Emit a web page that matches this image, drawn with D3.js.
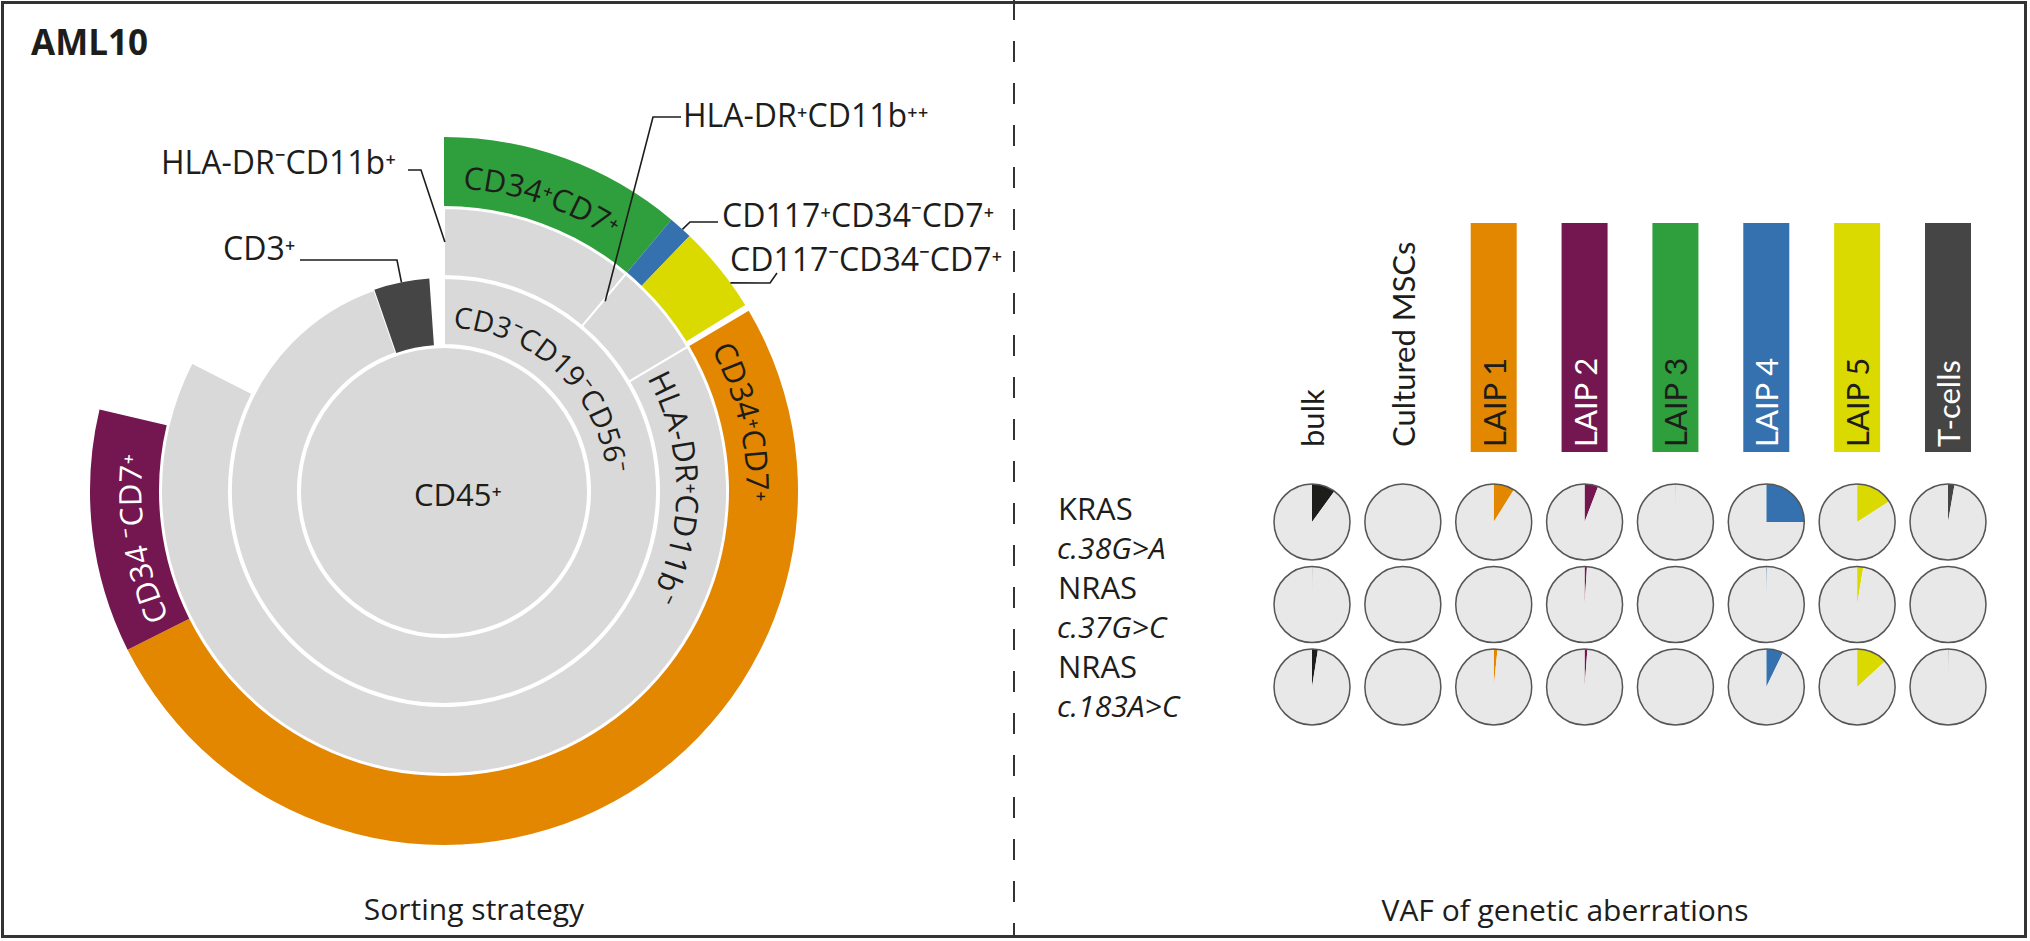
<!DOCTYPE html>
<html>
<head>
<meta charset="utf-8">
<script src="https://cdn.jsdelivr.net/npm/d3@7"></script>
<style>
  html, body { margin: 0; padding: 0; background: #fff; }
  svg { display: block; }
  text { font-family: "Open Sans", "Noto Sans", "DejaVu Sans", sans-serif; fill: #1d1d1b; }
</style>
</head>
<body>
<svg id="chart" width="2030" height="941"></svg>
<script>
// ---- sorting tree (share of CD45+ events, %, leaves only) ----
const popIds = ['CD45', 'CD3neg', 'CD3pos', 'rest1',
  'DRnegCD11bpos', 'DRposCD11bhi', 'DRposCD11bneg', 'rest2',
  'LAIP3', 'LAIP4', 'LAIP5', 'rest3a', 'LAIP1', 'LAIP2', 'rest3b']
const popParents = [null, 'CD45', 'CD45', 'CD45',
  'CD3neg', 'CD3neg', 'CD3neg', 'CD3neg',
  'DRnegCD11bpos', 'DRposCD11bhi', 'DRposCD11bhi', 'DRposCD11bhi',
  'DRposCD11bneg', 'DRposCD11bneg', 'DRposCD11bneg']
const popShares = [0, 0, 4.2, 1.1, 0, 0, 0, 12.2, 11.1, 1.1, 4.0, 0.3, 51.1, 11.1, 3.8]

// labels written along the rings
const arcLabelIds = ['CD3neg', 'DRposCD11bneg', 'LAIP3', 'LAIP1', 'LAIP2']
const arcLabelTexts = ['CD3⁻CD19⁻CD56⁻', 'HLA-DR⁺CD11b⁻', 'CD34⁺CD7⁺', 'CD34⁺CD7⁺', 'CD34 ⁻CD7⁺']
const arcLabelAngles = [43.5, 89, 18.5, 77, 261]

// labels with leader lines
const calloutIds = ['DRnegCD11bpos', 'CD3pos', 'DRposCD11bhi', 'LAIP4', 'LAIP5']
const calloutTexts = ['HLA-DR⁻CD11b⁺', 'CD3⁺', 'HLA-DR⁺CD11b⁺⁺', 'CD117⁺CD34⁻CD7⁺', 'CD117⁻CD34⁻CD7⁺']

// ---- VAF panel ----
const samples = ['bulk', 'Cultured MSCs', 'LAIP 1', 'LAIP 2', 'LAIP 3', 'LAIP 4', 'LAIP 5', 'T-cells']
const sortedSamples = ['LAIP 1', 'LAIP 2', 'LAIP 3', 'LAIP 4', 'LAIP 5', 'T-cells']
const mutGenes = ['KRAS', 'NRAS', 'NRAS']
const mutChanges = ['c.38G>A', 'c.37G>C', 'c.183A>C']
const vafKRAS38 = [10, 0, 8.9, 5.8, 0.2, 25, 15.9, 2.75]
const vafNRAS37 = [0.15, 0, 0, 1, 0, 0.3, 2.6, 0]
const vafNRAS183 = [2.5, 0, 1.6, 1.2, 0, 7.2, 13.2, 0.2]

// ---- styles ----
const sampleColor = {
  'bulk': '#1d1d1b', 'Cultured MSCs': '#1d1d1b',
  'LAIP 1': '#e38600', 'LAIP 2': '#74164f', 'LAIP 3': '#2f9e3c',
  'LAIP 4': '#3471ae', 'LAIP 5': '#dad900', 'T-cells': '#454545'
}
const popColor = {
  CD3pos: sampleColor['T-cells'], LAIP1: sampleColor['LAIP 1'], LAIP2: sampleColor['LAIP 2'],
  LAIP3: sampleColor['LAIP 3'], LAIP4: sampleColor['LAIP 4'], LAIP5: sampleColor['LAIP 5']
}
const barTextColor = { 'LAIP 1': '#1d1d1b', 'LAIP 2': '#fff', 'LAIP 3': '#1d1d1b', 'LAIP 4': '#fff', 'LAIP 5': '#1d1d1b', 'T-cells': '#fff' }
const arcFontSize = { CD3neg: 29 }
const ringGrey = '#d9d9d9'
const pieGrey = '#e8e8e8'

const svg = d3.select('#chart')

// frame + divider
svg.append('rect')
  .attr('x', 2.5).attr('y', 2.5).attr('width', 2023).attr('height', 934)
  .attr('fill', 'none').attr('stroke', '#333').attr('stroke-width', 3)
svg.append('line')
  .attr('x1', 1014).attr('x2', 1014).attr('y1', -1).attr('y2', 936)
  .attr('stroke', '#333').attr('stroke-width', 2).attr('stroke-dasharray', '21 21')

svg.append('text').attr('x', 31).attr('y', 55)
  .attr('font-size', 35).attr('font-weight', 700).text('AML10')

// ================= sunburst =================
const cx = 444, cy = 491
const root = d3.stratify()
  .id(d => d.id).parentId(d => d.parent)(popIds.map((id, i) => ({ id, parent: popParents[i], share: popShares[i] })))
  .sum(d => d.share)
d3.partition().size([2 * Math.PI, 4])(root)

const rScale = d3.scaleLinear().domain([0, 1, 2, 3, 4]).range([0, 145, 214, 284, 355])
const arc = d3.arc()
  .startAngle(d => d.x0).endAngle(d => d.x1)
  .innerRadius(d => d.depth ? rScale(d.y0) + 1 : 0)
  .outerRadius(d => rScale(d.y1) - 1)

const sun = svg.append('g').attr('transform', `translate(${cx},${cy})`)
const isRest = d => d.id.startsWith('rest')

sun.selectAll('path.node')
  .data(root.descendants().filter(d => !isRest(d)))
  .join('path')
  .attr('class', 'node')
  .attr('d', arc)
  .attr('fill', d => popColor[d.id] || ringGrey)
  .attr('stroke', d => popColor[d.id] ? 'none' : '#fff')
  .attr('stroke-width', 2)

const byId = new Map(root.descendants().map(d => [d.id, d]))
const polar = (a, r) => [r * Math.sin(a), -r * Math.cos(a)]

// centre label
sun.append('text').attr('x', 14).attr('y', 15)
  .attr('text-anchor', 'middle').attr('font-size', 31).text('CD45⁺')

// ring labels on circular paths
const defs = svg.append('defs')
arcLabelIds.forEach((id, i) => {
  const d = byId.get(id)
  const fs = arcFontSize[id] || 31
  const rMid = rScale(d.y0) + (rScale(d.y1) - rScale(d.y0)) * 0.42
  const rb = rMid - fs * 0.36
  const a = arcLabelAngles[i] * Math.PI / 180
  const p0 = polar(a - 1.4, rb), p1 = polar(a + 1.4, rb)
  defs.append('path').attr('id', 'lp' + i)
    .attr('d', `M${p0[0]},${p0[1]} A${rb},${rb} 0 0 1 ${p1[0]},${p1[1]}`)
  sun.append('text').attr('font-size', fs)
    .style('fill', id === 'LAIP2' ? '#fff' : '#1d1d1b')
    .append('textPath').attr('href', '#lp' + i)
    .attr('startOffset', '50%').attr('text-anchor', 'middle')
    .text(arcLabelTexts[i])
})

// callouts: text position, elbow points, target (fraction of node angle, radius)
const calloutLayout = [
  { x: 161, y: 174, pts: [[408, 170], [421, 170]], f: 0.005, r: 'mid' },
  { x: 223, y: 260, pts: [[300, 260], [397, 260]], f: 0.5, r: 'outer' },
  { x: 683, y: 127, pts: [[681, 117], [653, 117]], f: 0.02, r: 'mid' },
  { x: 722, y: 227, pts: [[718, 222], [690, 222]], f: 0.6, r: 'outer' },
  { x: 730, y: 271, pts: [[777, 273], [770, 283]], f: 0.7, r: 'outer' }
]
calloutIds.forEach((id, i) => {
  const d = byId.get(id)
  const L = calloutLayout[i]
  const a = d.x0 + (d.x1 - d.x0) * L.f
  const r = L.r === 'mid' ? (rScale(d.y0) + rScale(d.y1)) / 2 : rScale(d.y1) - 1
  const t = polar(a, r)
  const pts = L.pts.concat([[cx + t[0], cy + t[1]]])
  svg.append('path').attr('d', d3.line()(pts))
    .attr('fill', 'none').attr('stroke', '#1d1d1b').attr('stroke-width', 1.6)
  svg.append('text').attr('x', L.x).attr('y', L.y).attr('font-size', 32).text(calloutTexts[i])
})

svg.append('text').attr('x', 474).attr('y', 920).attr('text-anchor', 'middle')
  .attr('font-size', 30).text('Sorting strategy')

// ================= VAF panel =================
const x = d3.scalePoint().domain(samples).range([1312, 1948])
const rows = [vafKRAS38, vafNRAS37, vafNRAS183]
const y = d3.scalePoint().domain(d3.range(rows.length)).range([522, 687])
const labelY = d3.scalePoint().domain(d3.range(rows.length)).range([520, 678])
const pieR = 38

// population bars
svg.selectAll('rect.bar').data(sortedSamples).join('rect')
  .attr('class', 'bar')
  .attr('x', d => x(d) - 23).attr('width', 46)
  .attr('y', 223).attr('height', 229)
  .attr('fill', d => sampleColor[d])

// column headers
svg.selectAll('text.col').data(samples).join('text')
  .attr('class', 'col')
  .attr('transform', d => `translate(${x(d) + 12},447) rotate(-90)`)
  .attr('font-size', 31)
  .style('font-family', 'Lato, "Open Sans", sans-serif')
  .style('fill', d => barTextColor[d] || '#1d1d1b')
  .text(d => d)

// row labels
svg.selectAll('text.gene').data(mutGenes).join('text')
  .attr('class', 'gene')
  .attr('x', 1058).attr('y', (d, i) => labelY(i))
  .attr('font-size', 31).text(d => d)
svg.selectAll('text.mut').data(mutChanges).join('text')
  .attr('class', 'mut')
  .attr('x', 1057).attr('y', (d, i) => labelY(i) + 39)
  .attr('font-size', 30).attr('font-style', 'italic').text(d => d)

// VAF pies
const pie = d3.pie().sort(null).value(d => d)
const pieArc = d3.arc().innerRadius(0).outerRadius(pieR)
const cells = rows.flatMap((vals, i) => vals.map((v, j) => ({ row: i, sample: samples[j], vaf: v })))
const pg = svg.selectAll('g.pie').data(cells).join('g')
  .attr('class', 'pie')
  .attr('transform', d => `translate(${x(d.sample)},${y(d.row)})`)
pg.selectAll('path')
  .data(d => pie([d.vaf, 100 - d.vaf]).map((s, k) => ({ s, k, sample: d.sample })))
  .join('path')
  .attr('d', d => pieArc(d.s))
  .attr('fill', d => d.k === 0 ? sampleColor[d.sample] : pieGrey)
pg.append('circle').attr('r', pieR)
  .attr('fill', 'none').attr('stroke', '#555').attr('stroke-width', 1.5)

svg.append('text').attr('x', 1565).attr('y', 921).attr('text-anchor', 'middle')
  .attr('font-size', 30).text('VAF of genetic aberrations')
</script>
</body>
</html>
